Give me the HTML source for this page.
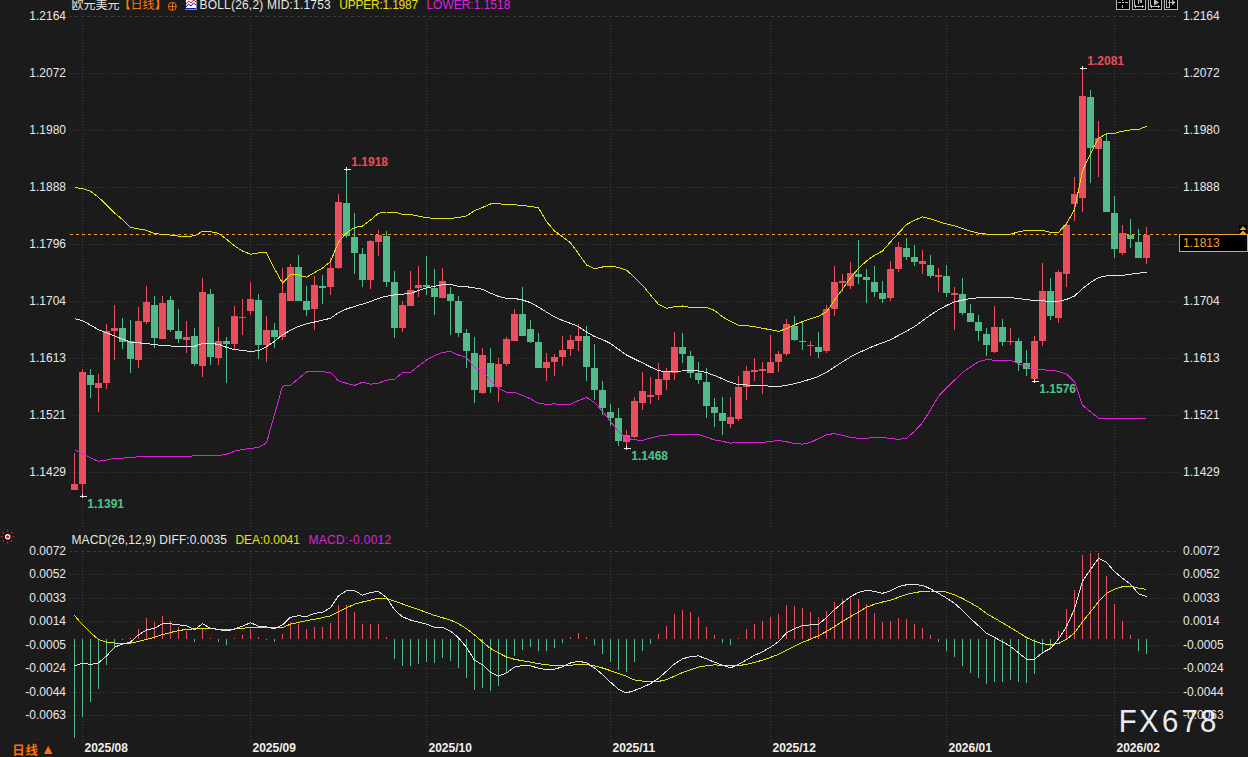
<!DOCTYPE html>
<html><head><meta charset="utf-8"><title>EURUSD</title>
<style>
html,body{margin:0;padding:0;background:#1b1b1b;}
body{width:1248px;height:757px;overflow:hidden;}
svg{display:block;font-family:"Liberation Sans", "Noto Sans CJK SC", sans-serif;}
</style></head>
<body>
<svg width="1248" height="757" viewBox="0 0 1248 757">
<rect width="1248" height="757" fill="#1b1b1b"/>
<g shape-rendering="crispEdges">
<line x1="69" y1="16.5" x2="1177" y2="16.5" stroke="#3c3c3c" stroke-width="1" stroke-dasharray="3 3"/>
<line x1="70" y1="73.5" x2="1178" y2="73.5" stroke="#3c3c3c" stroke-width="1" stroke-dasharray="1 2"/>
<line x1="70" y1="130.5" x2="1178" y2="130.5" stroke="#3c3c3c" stroke-width="1" stroke-dasharray="1 2"/>
<line x1="70" y1="187.5" x2="1178" y2="187.5" stroke="#3c3c3c" stroke-width="1" stroke-dasharray="1 2"/>
<line x1="70" y1="244.5" x2="1178" y2="244.5" stroke="#3c3c3c" stroke-width="1" stroke-dasharray="1 2"/>
<line x1="70" y1="301.5" x2="1178" y2="301.5" stroke="#3c3c3c" stroke-width="1" stroke-dasharray="1 2"/>
<line x1="70" y1="358.5" x2="1178" y2="358.5" stroke="#3c3c3c" stroke-width="1" stroke-dasharray="1 2"/>
<line x1="70" y1="415.5" x2="1178" y2="415.5" stroke="#3c3c3c" stroke-width="1" stroke-dasharray="1 2"/>
<line x1="70" y1="472.5" x2="1178" y2="472.5" stroke="#3c3c3c" stroke-width="1" stroke-dasharray="1 2"/>
<line x1="69" y1="551.5" x2="1177" y2="551.5" stroke="#3c3c3c" stroke-width="1" stroke-dasharray="3 3"/>
<line x1="70" y1="574.5" x2="1178" y2="574.5" stroke="#3c3c3c" stroke-width="1" stroke-dasharray="1 2"/>
<line x1="70" y1="598.5" x2="1178" y2="598.5" stroke="#3c3c3c" stroke-width="1" stroke-dasharray="1 2"/>
<line x1="70" y1="621.5" x2="1178" y2="621.5" stroke="#3c3c3c" stroke-width="1" stroke-dasharray="1 2"/>
<line x1="70" y1="645.5" x2="1178" y2="645.5" stroke="#3c3c3c" stroke-width="1" stroke-dasharray="1 2"/>
<line x1="70" y1="668.5" x2="1178" y2="668.5" stroke="#3c3c3c" stroke-width="1" stroke-dasharray="1 2"/>
<line x1="70" y1="692.5" x2="1178" y2="692.5" stroke="#3c3c3c" stroke-width="1" stroke-dasharray="1 2"/>
<line x1="70" y1="715.5" x2="1178" y2="715.5" stroke="#3c3c3c" stroke-width="1" stroke-dasharray="1 2"/>
<line x1="82.5" y1="19" x2="82.5" y2="527" stroke="#3c3c3c" stroke-width="1" stroke-dasharray="1 2"/>
<line x1="82.5" y1="553" x2="82.5" y2="738" stroke="#3c3c3c" stroke-width="1" stroke-dasharray="1 2"/>
<line x1="82.5" y1="740" x2="82.5" y2="744" stroke="#2a2a2a" stroke-width="1"/>
<line x1="250.5" y1="19" x2="250.5" y2="527" stroke="#3c3c3c" stroke-width="1" stroke-dasharray="1 2"/>
<line x1="250.5" y1="553" x2="250.5" y2="738" stroke="#3c3c3c" stroke-width="1" stroke-dasharray="1 2"/>
<line x1="250.5" y1="740" x2="250.5" y2="744" stroke="#2a2a2a" stroke-width="1"/>
<line x1="426.5" y1="19" x2="426.5" y2="527" stroke="#3c3c3c" stroke-width="1" stroke-dasharray="1 2"/>
<line x1="426.5" y1="553" x2="426.5" y2="738" stroke="#3c3c3c" stroke-width="1" stroke-dasharray="1 2"/>
<line x1="426.5" y1="740" x2="426.5" y2="744" stroke="#2a2a2a" stroke-width="1"/>
<line x1="610.5" y1="19" x2="610.5" y2="527" stroke="#3c3c3c" stroke-width="1" stroke-dasharray="1 2"/>
<line x1="610.5" y1="553" x2="610.5" y2="738" stroke="#3c3c3c" stroke-width="1" stroke-dasharray="1 2"/>
<line x1="610.5" y1="740" x2="610.5" y2="744" stroke="#2a2a2a" stroke-width="1"/>
<line x1="770.5" y1="19" x2="770.5" y2="527" stroke="#3c3c3c" stroke-width="1" stroke-dasharray="1 2"/>
<line x1="770.5" y1="553" x2="770.5" y2="738" stroke="#3c3c3c" stroke-width="1" stroke-dasharray="1 2"/>
<line x1="770.5" y1="740" x2="770.5" y2="744" stroke="#2a2a2a" stroke-width="1"/>
<line x1="946.5" y1="19" x2="946.5" y2="527" stroke="#3c3c3c" stroke-width="1" stroke-dasharray="1 2"/>
<line x1="946.5" y1="553" x2="946.5" y2="738" stroke="#3c3c3c" stroke-width="1" stroke-dasharray="1 2"/>
<line x1="946.5" y1="740" x2="946.5" y2="744" stroke="#2a2a2a" stroke-width="1"/>
<line x1="1114.5" y1="19" x2="1114.5" y2="527" stroke="#3c3c3c" stroke-width="1" stroke-dasharray="1 2"/>
<line x1="1114.5" y1="553" x2="1114.5" y2="738" stroke="#3c3c3c" stroke-width="1" stroke-dasharray="1 2"/>
<line x1="1114.5" y1="740" x2="1114.5" y2="744" stroke="#2a2a2a" stroke-width="1"/>
<line x1="0" y1="529.5" x2="1248" y2="529.5" stroke="#202020" stroke-width="1"/>
<line x1="0" y1="739.5" x2="1248" y2="739.5" stroke="#202020" stroke-width="1"/>
<line x1="69.5" y1="0" x2="69.5" y2="757" stroke="#1f1f1f" stroke-width="1"/>
<line x1="1180.5" y1="0" x2="1180.5" y2="757" stroke="#1e1e1e" stroke-width="1"/>
</g>
<line x1="70" y1="234.5" x2="1179" y2="234.5" stroke="#f0a030" stroke-width="1" stroke-dasharray="3 3" shape-rendering="crispEdges"/>
<g shape-rendering="crispEdges">
<rect x="74" y="453" width="1" height="37" fill="#eb4f5e"/>
<rect x="71" y="484" width="7" height="6" fill="#eb4f5e"/>
<rect x="82" y="369" width="1" height="127" fill="#eb4f5e"/>
<rect x="79" y="372" width="7" height="112" fill="#eb4f5e"/>
<rect x="90" y="369" width="1" height="29" fill="#52ba89"/>
<rect x="87" y="375" width="7" height="10" fill="#52ba89"/>
<rect x="98" y="374" width="1" height="38" fill="#eb4f5e"/>
<rect x="95" y="383" width="7" height="5" fill="#eb4f5e"/>
<rect x="106" y="324" width="1" height="65" fill="#eb4f5e"/>
<rect x="103" y="331" width="7" height="52" fill="#eb4f5e"/>
<rect x="114" y="305" width="1" height="55" fill="#eb4f5e"/>
<rect x="111" y="328" width="7" height="3" fill="#eb4f5e"/>
<rect x="122" y="318" width="1" height="31" fill="#52ba89"/>
<rect x="119" y="328" width="7" height="14" fill="#52ba89"/>
<rect x="130" y="320" width="1" height="53" fill="#52ba89"/>
<rect x="127" y="341" width="7" height="18" fill="#52ba89"/>
<rect x="138" y="307" width="1" height="61" fill="#eb4f5e"/>
<rect x="135" y="321" width="7" height="39" fill="#eb4f5e"/>
<rect x="146" y="286" width="1" height="38" fill="#eb4f5e"/>
<rect x="143" y="302" width="7" height="20" fill="#eb4f5e"/>
<rect x="154" y="296" width="1" height="52" fill="#52ba89"/>
<rect x="151" y="305" width="7" height="33" fill="#52ba89"/>
<rect x="162" y="296" width="1" height="43" fill="#eb4f5e"/>
<rect x="159" y="303" width="7" height="36" fill="#eb4f5e"/>
<rect x="170" y="296" width="1" height="36" fill="#52ba89"/>
<rect x="167" y="300" width="7" height="30" fill="#52ba89"/>
<rect x="178" y="309" width="1" height="34" fill="#52ba89"/>
<rect x="175" y="331" width="7" height="8" fill="#52ba89"/>
<rect x="186" y="321" width="1" height="32" fill="#eb4f5e"/>
<rect x="183" y="337" width="7" height="3" fill="#eb4f5e"/>
<rect x="194" y="328" width="1" height="38" fill="#52ba89"/>
<rect x="191" y="336" width="7" height="28" fill="#52ba89"/>
<rect x="202" y="278" width="1" height="99" fill="#eb4f5e"/>
<rect x="199" y="292" width="7" height="74" fill="#eb4f5e"/>
<rect x="210" y="289" width="1" height="76" fill="#52ba89"/>
<rect x="207" y="294" width="7" height="63" fill="#52ba89"/>
<rect x="218" y="327" width="1" height="38" fill="#eb4f5e"/>
<rect x="215" y="341" width="7" height="17" fill="#eb4f5e"/>
<rect x="226" y="337" width="1" height="46" fill="#52ba89"/>
<rect x="223" y="341" width="7" height="3" fill="#52ba89"/>
<rect x="234" y="306" width="1" height="43" fill="#eb4f5e"/>
<rect x="231" y="316" width="7" height="28" fill="#eb4f5e"/>
<rect x="242" y="299" width="1" height="36" fill="#eb4f5e"/>
<rect x="239" y="317" width="7" height="1" fill="#eb4f5e"/>
<rect x="250" y="282" width="1" height="33" fill="#eb4f5e"/>
<rect x="247" y="299" width="7" height="12" fill="#eb4f5e"/>
<rect x="258" y="294" width="1" height="65" fill="#52ba89"/>
<rect x="255" y="300" width="7" height="45" fill="#52ba89"/>
<rect x="266" y="316" width="1" height="46" fill="#eb4f5e"/>
<rect x="263" y="330" width="7" height="15" fill="#eb4f5e"/>
<rect x="274" y="323" width="1" height="25" fill="#52ba89"/>
<rect x="271" y="330" width="7" height="7" fill="#52ba89"/>
<rect x="282" y="268" width="1" height="72" fill="#eb4f5e"/>
<rect x="279" y="293" width="7" height="44" fill="#eb4f5e"/>
<rect x="290" y="264" width="1" height="37" fill="#eb4f5e"/>
<rect x="287" y="267" width="7" height="34" fill="#eb4f5e"/>
<rect x="298" y="255" width="1" height="46" fill="#52ba89"/>
<rect x="295" y="267" width="7" height="34" fill="#52ba89"/>
<rect x="306" y="286" width="1" height="30" fill="#52ba89"/>
<rect x="303" y="301" width="7" height="9" fill="#52ba89"/>
<rect x="314" y="276" width="1" height="54" fill="#eb4f5e"/>
<rect x="311" y="285" width="7" height="24" fill="#eb4f5e"/>
<rect x="322" y="275" width="1" height="29" fill="#52ba89"/>
<rect x="319" y="286" width="7" height="2" fill="#52ba89"/>
<rect x="330" y="258" width="1" height="37" fill="#eb4f5e"/>
<rect x="327" y="268" width="7" height="19" fill="#eb4f5e"/>
<rect x="338" y="194" width="1" height="75" fill="#eb4f5e"/>
<rect x="335" y="202" width="7" height="66" fill="#eb4f5e"/>
<rect x="346" y="169" width="1" height="69" fill="#52ba89"/>
<rect x="343" y="203" width="7" height="33" fill="#52ba89"/>
<rect x="354" y="213" width="1" height="61" fill="#52ba89"/>
<rect x="351" y="237" width="7" height="16" fill="#52ba89"/>
<rect x="362" y="248" width="1" height="39" fill="#52ba89"/>
<rect x="359" y="254" width="7" height="26" fill="#52ba89"/>
<rect x="370" y="240" width="1" height="49" fill="#eb4f5e"/>
<rect x="367" y="241" width="7" height="39" fill="#eb4f5e"/>
<rect x="378" y="230" width="1" height="26" fill="#eb4f5e"/>
<rect x="375" y="235" width="7" height="7" fill="#eb4f5e"/>
<rect x="386" y="231" width="1" height="56" fill="#52ba89"/>
<rect x="383" y="236" width="7" height="46" fill="#52ba89"/>
<rect x="394" y="271" width="1" height="67" fill="#52ba89"/>
<rect x="391" y="282" width="7" height="46" fill="#52ba89"/>
<rect x="402" y="301" width="1" height="31" fill="#eb4f5e"/>
<rect x="399" y="305" width="7" height="23" fill="#eb4f5e"/>
<rect x="410" y="271" width="1" height="35" fill="#eb4f5e"/>
<rect x="407" y="290" width="7" height="16" fill="#eb4f5e"/>
<rect x="418" y="266" width="1" height="31" fill="#eb4f5e"/>
<rect x="415" y="285" width="7" height="3" fill="#eb4f5e"/>
<rect x="426" y="256" width="1" height="39" fill="#52ba89"/>
<rect x="423" y="285" width="7" height="2" fill="#52ba89"/>
<rect x="434" y="269" width="1" height="46" fill="#52ba89"/>
<rect x="431" y="288" width="7" height="9" fill="#52ba89"/>
<rect x="442" y="268" width="1" height="30" fill="#eb4f5e"/>
<rect x="439" y="281" width="7" height="17" fill="#eb4f5e"/>
<rect x="450" y="287" width="1" height="48" fill="#52ba89"/>
<rect x="447" y="294" width="7" height="7" fill="#52ba89"/>
<rect x="458" y="296" width="1" height="41" fill="#52ba89"/>
<rect x="455" y="301" width="7" height="32" fill="#52ba89"/>
<rect x="466" y="329" width="1" height="39" fill="#52ba89"/>
<rect x="463" y="333" width="7" height="18" fill="#52ba89"/>
<rect x="474" y="337" width="1" height="66" fill="#52ba89"/>
<rect x="471" y="353" width="7" height="37" fill="#52ba89"/>
<rect x="482" y="348" width="1" height="46" fill="#eb4f5e"/>
<rect x="479" y="355" width="7" height="38" fill="#eb4f5e"/>
<rect x="490" y="348" width="1" height="45" fill="#52ba89"/>
<rect x="487" y="363" width="7" height="24" fill="#52ba89"/>
<rect x="498" y="358" width="1" height="44" fill="#eb4f5e"/>
<rect x="495" y="364" width="7" height="23" fill="#eb4f5e"/>
<rect x="506" y="337" width="1" height="29" fill="#eb4f5e"/>
<rect x="503" y="339" width="7" height="25" fill="#eb4f5e"/>
<rect x="514" y="309" width="1" height="32" fill="#eb4f5e"/>
<rect x="511" y="314" width="7" height="27" fill="#eb4f5e"/>
<rect x="522" y="287" width="1" height="49" fill="#52ba89"/>
<rect x="519" y="314" width="7" height="22" fill="#52ba89"/>
<rect x="530" y="320" width="1" height="23" fill="#52ba89"/>
<rect x="527" y="329" width="7" height="13" fill="#52ba89"/>
<rect x="538" y="333" width="1" height="35" fill="#52ba89"/>
<rect x="535" y="342" width="7" height="26" fill="#52ba89"/>
<rect x="546" y="353" width="1" height="28" fill="#eb4f5e"/>
<rect x="543" y="362" width="7" height="6" fill="#eb4f5e"/>
<rect x="554" y="354" width="1" height="22" fill="#eb4f5e"/>
<rect x="551" y="357" width="7" height="5" fill="#eb4f5e"/>
<rect x="562" y="336" width="1" height="30" fill="#eb4f5e"/>
<rect x="559" y="350" width="7" height="7" fill="#eb4f5e"/>
<rect x="570" y="335" width="1" height="21" fill="#eb4f5e"/>
<rect x="567" y="340" width="7" height="9" fill="#eb4f5e"/>
<rect x="578" y="324" width="1" height="27" fill="#eb4f5e"/>
<rect x="575" y="336" width="7" height="5" fill="#eb4f5e"/>
<rect x="586" y="326" width="1" height="55" fill="#52ba89"/>
<rect x="583" y="336" width="7" height="31" fill="#52ba89"/>
<rect x="594" y="344" width="1" height="56" fill="#52ba89"/>
<rect x="591" y="368" width="7" height="22" fill="#52ba89"/>
<rect x="602" y="381" width="1" height="34" fill="#52ba89"/>
<rect x="599" y="390" width="7" height="18" fill="#52ba89"/>
<rect x="610" y="404" width="1" height="22" fill="#52ba89"/>
<rect x="607" y="412" width="7" height="6" fill="#52ba89"/>
<rect x="618" y="408" width="1" height="38" fill="#52ba89"/>
<rect x="615" y="418" width="7" height="23" fill="#52ba89"/>
<rect x="626" y="430" width="1" height="18" fill="#eb4f5e"/>
<rect x="623" y="435" width="7" height="7" fill="#eb4f5e"/>
<rect x="634" y="397" width="1" height="41" fill="#eb4f5e"/>
<rect x="631" y="401" width="7" height="36" fill="#eb4f5e"/>
<rect x="642" y="372" width="1" height="38" fill="#eb4f5e"/>
<rect x="639" y="391" width="7" height="12" fill="#eb4f5e"/>
<rect x="650" y="377" width="1" height="27" fill="#eb4f5e"/>
<rect x="647" y="395" width="7" height="2" fill="#eb4f5e"/>
<rect x="658" y="363" width="1" height="37" fill="#eb4f5e"/>
<rect x="655" y="379" width="7" height="16" fill="#eb4f5e"/>
<rect x="666" y="368" width="1" height="22" fill="#eb4f5e"/>
<rect x="663" y="372" width="7" height="8" fill="#eb4f5e"/>
<rect x="674" y="332" width="1" height="48" fill="#eb4f5e"/>
<rect x="671" y="347" width="7" height="26" fill="#eb4f5e"/>
<rect x="682" y="333" width="1" height="30" fill="#52ba89"/>
<rect x="679" y="347" width="7" height="7" fill="#52ba89"/>
<rect x="690" y="351" width="1" height="27" fill="#52ba89"/>
<rect x="687" y="356" width="7" height="17" fill="#52ba89"/>
<rect x="698" y="362" width="1" height="22" fill="#52ba89"/>
<rect x="695" y="373" width="7" height="7" fill="#52ba89"/>
<rect x="706" y="368" width="1" height="50" fill="#52ba89"/>
<rect x="703" y="382" width="7" height="24" fill="#52ba89"/>
<rect x="714" y="398" width="1" height="29" fill="#52ba89"/>
<rect x="711" y="407" width="7" height="6" fill="#52ba89"/>
<rect x="722" y="397" width="1" height="38" fill="#52ba89"/>
<rect x="719" y="413" width="7" height="8" fill="#52ba89"/>
<rect x="730" y="397" width="1" height="31" fill="#eb4f5e"/>
<rect x="727" y="417" width="7" height="7" fill="#eb4f5e"/>
<rect x="738" y="376" width="1" height="45" fill="#eb4f5e"/>
<rect x="735" y="387" width="7" height="32" fill="#eb4f5e"/>
<rect x="746" y="366" width="1" height="34" fill="#eb4f5e"/>
<rect x="743" y="371" width="7" height="16" fill="#eb4f5e"/>
<rect x="754" y="358" width="1" height="23" fill="#eb4f5e"/>
<rect x="751" y="370" width="7" height="2" fill="#eb4f5e"/>
<rect x="762" y="362" width="1" height="32" fill="#eb4f5e"/>
<rect x="759" y="369" width="7" height="2" fill="#eb4f5e"/>
<rect x="770" y="335" width="1" height="38" fill="#eb4f5e"/>
<rect x="767" y="362" width="7" height="11" fill="#eb4f5e"/>
<rect x="778" y="351" width="1" height="21" fill="#eb4f5e"/>
<rect x="775" y="354" width="7" height="8" fill="#eb4f5e"/>
<rect x="786" y="319" width="1" height="37" fill="#eb4f5e"/>
<rect x="783" y="324" width="7" height="30" fill="#eb4f5e"/>
<rect x="794" y="316" width="1" height="25" fill="#52ba89"/>
<rect x="791" y="326" width="7" height="14" fill="#52ba89"/>
<rect x="802" y="322" width="1" height="28" fill="#52ba89"/>
<rect x="799" y="341" width="7" height="1" fill="#52ba89"/>
<rect x="810" y="341" width="1" height="15" fill="#eb4f5e"/>
<rect x="807" y="345" width="7" height="1" fill="#eb4f5e"/>
<rect x="818" y="332" width="1" height="26" fill="#52ba89"/>
<rect x="815" y="347" width="7" height="5" fill="#52ba89"/>
<rect x="826" y="305" width="1" height="48" fill="#eb4f5e"/>
<rect x="823" y="309" width="7" height="42" fill="#eb4f5e"/>
<rect x="834" y="266" width="1" height="50" fill="#eb4f5e"/>
<rect x="831" y="282" width="7" height="27" fill="#eb4f5e"/>
<rect x="842" y="274" width="1" height="18" fill="#eb4f5e"/>
<rect x="839" y="281" width="7" height="2" fill="#eb4f5e"/>
<rect x="850" y="262" width="1" height="27" fill="#eb4f5e"/>
<rect x="847" y="273" width="7" height="13" fill="#eb4f5e"/>
<rect x="858" y="240" width="1" height="44" fill="#52ba89"/>
<rect x="855" y="274" width="7" height="3" fill="#52ba89"/>
<rect x="866" y="269" width="1" height="34" fill="#52ba89"/>
<rect x="863" y="277" width="7" height="3" fill="#52ba89"/>
<rect x="874" y="266" width="1" height="31" fill="#52ba89"/>
<rect x="871" y="282" width="7" height="10" fill="#52ba89"/>
<rect x="882" y="281" width="1" height="22" fill="#52ba89"/>
<rect x="879" y="293" width="7" height="6" fill="#52ba89"/>
<rect x="890" y="261" width="1" height="40" fill="#eb4f5e"/>
<rect x="887" y="269" width="7" height="29" fill="#eb4f5e"/>
<rect x="898" y="242" width="1" height="30" fill="#eb4f5e"/>
<rect x="895" y="247" width="7" height="22" fill="#eb4f5e"/>
<rect x="906" y="238" width="1" height="22" fill="#52ba89"/>
<rect x="903" y="248" width="7" height="9" fill="#52ba89"/>
<rect x="914" y="245" width="1" height="21" fill="#52ba89"/>
<rect x="911" y="257" width="7" height="5" fill="#52ba89"/>
<rect x="922" y="250" width="1" height="24" fill="#eb4f5e"/>
<rect x="919" y="261" width="7" height="3" fill="#eb4f5e"/>
<rect x="930" y="255" width="1" height="23" fill="#52ba89"/>
<rect x="927" y="265" width="7" height="11" fill="#52ba89"/>
<rect x="938" y="268" width="1" height="24" fill="#eb4f5e"/>
<rect x="935" y="275" width="7" height="2" fill="#eb4f5e"/>
<rect x="946" y="265" width="1" height="32" fill="#52ba89"/>
<rect x="943" y="276" width="7" height="17" fill="#52ba89"/>
<rect x="954" y="287" width="1" height="43" fill="#eb4f5e"/>
<rect x="951" y="293" width="7" height="2" fill="#eb4f5e"/>
<rect x="962" y="278" width="1" height="37" fill="#52ba89"/>
<rect x="959" y="294" width="7" height="19" fill="#52ba89"/>
<rect x="970" y="304" width="1" height="18" fill="#52ba89"/>
<rect x="967" y="313" width="7" height="9" fill="#52ba89"/>
<rect x="978" y="315" width="1" height="26" fill="#52ba89"/>
<rect x="975" y="322" width="7" height="9" fill="#52ba89"/>
<rect x="986" y="328" width="1" height="28" fill="#52ba89"/>
<rect x="983" y="334" width="7" height="11" fill="#52ba89"/>
<rect x="994" y="306" width="1" height="47" fill="#eb4f5e"/>
<rect x="991" y="327" width="7" height="25" fill="#eb4f5e"/>
<rect x="1002" y="319" width="1" height="27" fill="#52ba89"/>
<rect x="999" y="327" width="7" height="15" fill="#52ba89"/>
<rect x="1010" y="328" width="1" height="17" fill="#eb4f5e"/>
<rect x="1007" y="341" width="7" height="1" fill="#eb4f5e"/>
<rect x="1018" y="338" width="1" height="33" fill="#52ba89"/>
<rect x="1015" y="341" width="7" height="22" fill="#52ba89"/>
<rect x="1026" y="350" width="1" height="26" fill="#52ba89"/>
<rect x="1023" y="363" width="7" height="6" fill="#52ba89"/>
<rect x="1034" y="336" width="1" height="45" fill="#eb4f5e"/>
<rect x="1031" y="341" width="7" height="38" fill="#eb4f5e"/>
<rect x="1042" y="263" width="1" height="83" fill="#eb4f5e"/>
<rect x="1039" y="291" width="7" height="50" fill="#eb4f5e"/>
<rect x="1050" y="278" width="1" height="42" fill="#52ba89"/>
<rect x="1047" y="291" width="7" height="25" fill="#52ba89"/>
<rect x="1058" y="270" width="1" height="53" fill="#eb4f5e"/>
<rect x="1055" y="272" width="7" height="46" fill="#eb4f5e"/>
<rect x="1066" y="222" width="1" height="65" fill="#eb4f5e"/>
<rect x="1063" y="225" width="7" height="49" fill="#eb4f5e"/>
<rect x="1074" y="177" width="1" height="44" fill="#eb4f5e"/>
<rect x="1071" y="194" width="7" height="10" fill="#eb4f5e"/>
<rect x="1082" y="68" width="1" height="144" fill="#eb4f5e"/>
<rect x="1079" y="96" width="7" height="102" fill="#eb4f5e"/>
<rect x="1090" y="90" width="1" height="93" fill="#52ba89"/>
<rect x="1087" y="97" width="7" height="51" fill="#52ba89"/>
<rect x="1098" y="121" width="1" height="56" fill="#eb4f5e"/>
<rect x="1095" y="138" width="7" height="11" fill="#eb4f5e"/>
<rect x="1106" y="134" width="1" height="78" fill="#52ba89"/>
<rect x="1103" y="141" width="7" height="71" fill="#52ba89"/>
<rect x="1114" y="196" width="1" height="62" fill="#52ba89"/>
<rect x="1111" y="213" width="7" height="36" fill="#52ba89"/>
<rect x="1122" y="225" width="1" height="30" fill="#eb4f5e"/>
<rect x="1119" y="233" width="7" height="20" fill="#eb4f5e"/>
<rect x="1130" y="219" width="1" height="29" fill="#52ba89"/>
<rect x="1127" y="235" width="7" height="4" fill="#52ba89"/>
<rect x="1138" y="229" width="1" height="29" fill="#52ba89"/>
<rect x="1135" y="242" width="7" height="16" fill="#52ba89"/>
<rect x="1146" y="227" width="1" height="37" fill="#eb4f5e"/>
<rect x="1143" y="235" width="7" height="23" fill="#eb4f5e"/>
</g>
<polyline points="74.5,187.6 82.5,188.5 90.5,191.1 98.5,197.3 106.5,205.0 114.5,213.0 122.5,219.5 130.5,227.2 138.5,229.0 146.5,230.2 154.5,233.8 162.5,234.2 170.5,235.1 178.5,236.1 186.5,236.4 194.5,235.8 202.5,231.3 210.5,231.6 218.5,233.4 226.5,239.2 234.5,245.8 242.5,251.1 250.5,254.2 258.5,253.0 266.5,252.8 274.5,268.8 282.5,283.2 290.5,274.5 298.5,274.9 306.5,277.2 314.5,272.6 322.5,268.0 330.5,261.7 338.5,242.0 346.5,232.8 354.5,227.6 362.5,226.0 370.5,220.1 378.5,213.2 386.5,212.0 394.5,212.0 402.5,214.4 410.5,214.6 418.5,216.1 426.5,217.7 434.5,218.4 442.5,218.4 450.5,218.4 458.5,217.5 466.5,215.9 474.5,210.8 482.5,207.4 490.5,204.0 498.5,203.9 506.5,204.3 514.5,204.8 522.5,205.5 530.5,206.5 538.5,207.8 546.5,221.6 554.5,230.9 562.5,236.7 570.5,242.7 578.5,253.7 586.5,265.0 594.5,268.7 602.5,267.0 610.5,266.2 618.5,267.4 626.5,270.1 634.5,277.4 642.5,285.3 650.5,294.9 658.5,304.4 666.5,308.4 674.5,306.8 682.5,306.0 690.5,307.4 698.5,307.4 706.5,307.4 714.5,310.4 722.5,316.9 730.5,321.3 738.5,325.2 746.5,325.7 754.5,326.7 762.5,328.4 770.5,329.6 778.5,331.4 786.5,328.6 794.5,324.8 802.5,321.6 810.5,318.9 818.5,316.3 826.5,311.8 834.5,300.2 842.5,289.0 850.5,277.8 858.5,268.6 866.5,260.9 874.5,255.2 882.5,251.0 890.5,241.9 898.5,233.1 906.5,224.6 914.5,220.3 922.5,216.9 930.5,218.7 938.5,221.6 946.5,223.9 954.5,225.9 962.5,228.4 970.5,231.1 978.5,233.2 986.5,234.1 994.5,234.1 1002.5,234.1 1010.5,234.1 1018.5,231.9 1026.5,230.3 1034.5,230.3 1042.5,230.4 1050.5,232.4 1058.5,232.4 1066.5,223.8 1074.5,209.6 1082.5,170.8 1090.5,153.7 1098.5,138.3 1106.5,133.7 1114.5,133.3 1122.5,131.2 1130.5,130.0 1138.5,129.5 1146.5,126.4" fill="none" stroke="#e6e218" stroke-width="1" stroke-linejoin="round" shape-rendering="crispEdges"/>
<polyline points="74.5,318.7 82.5,320.7 90.5,325.1 98.5,329.8 106.5,332.8 114.5,335.9 122.5,339.2 130.5,342.1 138.5,342.8 146.5,343.6 154.5,344.6 162.5,345.5 170.5,346.0 178.5,346.0 186.5,346.1 194.5,346.4 202.5,343.3 210.5,343.7 218.5,344.2 226.5,347.4 234.5,349.6 242.5,350.3 250.5,351.5 258.5,350.6 266.5,346.8 274.5,341.3 282.5,334.6 290.5,330.4 298.5,326.4 306.5,323.8 314.5,322.0 322.5,320.2 330.5,318.3 338.5,312.5 346.5,309.0 354.5,306.4 362.5,304.1 370.5,301.5 378.5,298.3 386.5,296.2 394.5,295.0 402.5,294.2 410.5,293.4 418.5,290.6 426.5,287.9 434.5,286.3 442.5,284.8 450.5,284.2 458.5,286.5 466.5,286.7 474.5,287.9 482.5,289.3 490.5,293.1 498.5,296.4 506.5,298.4 514.5,298.4 522.5,300.0 530.5,302.7 538.5,307.1 546.5,312.1 554.5,316.9 562.5,320.4 570.5,323.4 578.5,326.5 586.5,332.1 594.5,336.5 602.5,339.6 610.5,343.5 618.5,349.4 626.5,355.0 634.5,359.0 642.5,362.9 650.5,367.0 658.5,370.5 666.5,372.0 674.5,371.1 682.5,371.0 690.5,370.9 698.5,370.9 706.5,372.6 714.5,375.5 722.5,378.8 730.5,382.4 738.5,384.6 746.5,385.0 754.5,385.2 762.5,385.6 770.5,386.2 778.5,386.5 786.5,385.4 794.5,383.7 802.5,381.6 810.5,379.1 818.5,376.4 826.5,372.2 834.5,367.1 842.5,361.9 850.5,356.9 858.5,352.8 866.5,349.2 874.5,345.7 882.5,342.9 890.5,339.8 898.5,335.4 906.5,331.1 914.5,326.6 922.5,320.8 930.5,315.0 938.5,309.9 946.5,305.5 954.5,301.8 962.5,300.2 970.5,298.6 978.5,297.7 986.5,297.7 994.5,297.7 1002.5,297.7 1010.5,297.7 1018.5,298.5 1026.5,299.6 1034.5,300.6 1042.5,300.9 1050.5,301.2 1058.5,301.4 1066.5,299.4 1074.5,296.1 1082.5,288.5 1090.5,282.5 1098.5,277.5 1106.5,276.0 1114.5,275.9 1122.5,275.3 1130.5,274.2 1138.5,273.1 1146.5,272.4" fill="none" stroke="#e4e4e4" stroke-width="1" stroke-linejoin="round" shape-rendering="crispEdges"/>
<polyline points="74.5,449.6 82.5,453.8 90.5,457.9 98.5,461.2 106.5,460.1 114.5,458.3 122.5,458.1 130.5,457.5 138.5,456.8 146.5,456.4 154.5,456.3 162.5,456.2 170.5,456.2 178.5,456.2 186.5,456.2 194.5,455.9 202.5,455.5 210.5,455.5 218.5,455.5 226.5,454.4 234.5,451.2 242.5,449.4 250.5,448.4 258.5,447.5 266.5,442.8 274.5,414.6 282.5,386.2 290.5,385.4 298.5,378.5 306.5,372.0 314.5,371.6 322.5,371.8 330.5,372.5 338.5,380.9 346.5,383.3 354.5,385.4 362.5,382.2 370.5,384.2 378.5,383.1 386.5,380.1 394.5,379.4 402.5,372.6 410.5,372.5 418.5,365.9 426.5,360.0 434.5,355.6 442.5,352.5 450.5,351.4 458.5,355.0 466.5,357.5 474.5,367.6 482.5,370.3 490.5,380.7 498.5,388.1 506.5,392.1 514.5,392.4 522.5,395.5 530.5,398.8 538.5,403.5 546.5,404.2 554.5,403.9 562.5,404.4 570.5,404.1 578.5,400.6 586.5,397.4 594.5,402.4 602.5,411.3 610.5,421.5 618.5,431.5 626.5,438.2 634.5,439.8 642.5,440.4 650.5,438.1 658.5,436.1 666.5,435.1 674.5,434.7 682.5,434.5 690.5,434.5 698.5,434.5 706.5,437.3 714.5,440.0 722.5,441.3 730.5,443.2 738.5,442.4 746.5,442.4 754.5,442.4 762.5,442.4 770.5,441.5 778.5,440.4 786.5,441.8 794.5,443.6 802.5,444.1 810.5,442.4 818.5,438.6 826.5,434.7 834.5,433.6 842.5,435.4 850.5,437.4 858.5,438.3 866.5,438.3 874.5,437.4 882.5,437.4 890.5,438.5 898.5,439.4 906.5,438.2 914.5,431.4 922.5,422.7 930.5,409.7 938.5,396.3 946.5,387.8 954.5,380.2 962.5,372.6 970.5,367.0 978.5,361.8 986.5,359.5 994.5,360.3 1002.5,360.3 1010.5,360.3 1018.5,363.6 1026.5,366.6 1034.5,369.5 1042.5,369.8 1050.5,370.3 1058.5,371.4 1066.5,374.2 1074.5,381.7 1082.5,405.3 1090.5,411.8 1098.5,418.2 1106.5,418.7 1114.5,418.9 1122.5,419.0 1130.5,418.9 1138.5,418.7 1146.5,418.5" fill="none" stroke="#de22de" stroke-width="1" stroke-linejoin="round" shape-rendering="crispEdges"/>
<rect x="80" y="496" width="7" height="1" fill="#f0f0f0" shape-rendering="crispEdges"/><rect x="82" y="494" width="1" height="4" fill="#f0f0f0" shape-rendering="crispEdges"/><text x="87.3" y="508" fill="#4fc48c" font-size="12" font-weight="bold">1.1391</text>
<rect x="344" y="169" width="7" height="1" fill="#f0f0f0" shape-rendering="crispEdges"/><rect x="346" y="167" width="1" height="4" fill="#f0f0f0" shape-rendering="crispEdges"/><text x="351.3" y="166" fill="#ec4c58" font-size="12" font-weight="bold">1.1918</text>
<rect x="624" y="448" width="7" height="1" fill="#f0f0f0" shape-rendering="crispEdges"/><rect x="626" y="446" width="1" height="4" fill="#f0f0f0" shape-rendering="crispEdges"/><text x="631.3" y="460" fill="#4fc48c" font-size="12" font-weight="bold">1.1468</text>
<rect x="1080" y="68" width="7" height="1" fill="#f0f0f0" shape-rendering="crispEdges"/><rect x="1082" y="66" width="1" height="4" fill="#f0f0f0" shape-rendering="crispEdges"/><text x="1087.3" y="65" fill="#ec4c58" font-size="12" font-weight="bold">1.2081</text>
<rect x="1032" y="381" width="7" height="1" fill="#f0f0f0" shape-rendering="crispEdges"/><rect x="1034" y="379" width="1" height="4" fill="#f0f0f0" shape-rendering="crispEdges"/><text x="1039.3" y="393" fill="#4fc48c" font-size="12" font-weight="bold">1.1576</text>
<g shape-rendering="crispEdges">
<rect x="74" y="639" width="1" height="99" fill="#52ba89"/>
<rect x="82" y="639" width="1" height="78" fill="#52ba89"/>
<rect x="90" y="639" width="1" height="63" fill="#52ba89"/>
<rect x="98" y="639" width="1" height="50" fill="#52ba89"/>
<rect x="106" y="639" width="1" height="26" fill="#52ba89"/>
<rect x="114" y="639" width="1" height="8" fill="#52ba89"/>
<rect x="122" y="639" width="1" height="1" fill="#52ba89"/>
<rect x="130" y="638" width="1" height="1" fill="#eb4f5e"/>
<rect x="138" y="629" width="1" height="10" fill="#eb4f5e"/>
<rect x="146" y="618" width="1" height="21" fill="#eb4f5e"/>
<rect x="154" y="622" width="1" height="17" fill="#eb4f5e"/>
<rect x="162" y="616" width="1" height="23" fill="#eb4f5e"/>
<rect x="170" y="621" width="1" height="18" fill="#eb4f5e"/>
<rect x="178" y="627" width="1" height="12" fill="#eb4f5e"/>
<rect x="186" y="631" width="1" height="8" fill="#eb4f5e"/>
<rect x="194" y="639" width="1" height="3" fill="#52ba89"/>
<rect x="202" y="629" width="1" height="10" fill="#eb4f5e"/>
<rect x="210" y="638" width="1" height="1" fill="#eb4f5e"/>
<rect x="218" y="639" width="1" height="3" fill="#52ba89"/>
<rect x="226" y="639" width="1" height="6" fill="#52ba89"/>
<rect x="234" y="638" width="1" height="1" fill="#eb4f5e"/>
<rect x="242" y="635" width="1" height="4" fill="#eb4f5e"/>
<rect x="250" y="629" width="1" height="10" fill="#eb4f5e"/>
<rect x="258" y="637" width="1" height="2" fill="#eb4f5e"/>
<rect x="266" y="639" width="1" height="1" fill="#52ba89"/>
<rect x="274" y="639" width="1" height="3" fill="#52ba89"/>
<rect x="282" y="634" width="1" height="5" fill="#eb4f5e"/>
<rect x="290" y="622" width="1" height="17" fill="#eb4f5e"/>
<rect x="298" y="624" width="1" height="15" fill="#eb4f5e"/>
<rect x="306" y="629" width="1" height="10" fill="#eb4f5e"/>
<rect x="314" y="627" width="1" height="12" fill="#eb4f5e"/>
<rect x="322" y="627" width="1" height="12" fill="#eb4f5e"/>
<rect x="330" y="623" width="1" height="16" fill="#eb4f5e"/>
<rect x="338" y="605" width="1" height="34" fill="#eb4f5e"/>
<rect x="346" y="605" width="1" height="34" fill="#eb4f5e"/>
<rect x="354" y="612" width="1" height="27" fill="#eb4f5e"/>
<rect x="362" y="624" width="1" height="15" fill="#eb4f5e"/>
<rect x="370" y="624" width="1" height="15" fill="#eb4f5e"/>
<rect x="378" y="624" width="1" height="15" fill="#eb4f5e"/>
<rect x="386" y="637" width="1" height="2" fill="#eb4f5e"/>
<rect x="394" y="639" width="1" height="20" fill="#52ba89"/>
<rect x="402" y="639" width="1" height="27" fill="#52ba89"/>
<rect x="410" y="639" width="1" height="27" fill="#52ba89"/>
<rect x="418" y="639" width="1" height="25" fill="#52ba89"/>
<rect x="426" y="639" width="1" height="23" fill="#52ba89"/>
<rect x="434" y="639" width="1" height="24" fill="#52ba89"/>
<rect x="442" y="639" width="1" height="19" fill="#52ba89"/>
<rect x="450" y="639" width="1" height="22" fill="#52ba89"/>
<rect x="458" y="639" width="1" height="29" fill="#52ba89"/>
<rect x="466" y="639" width="1" height="39" fill="#52ba89"/>
<rect x="474" y="639" width="1" height="51" fill="#52ba89"/>
<rect x="482" y="639" width="1" height="49" fill="#52ba89"/>
<rect x="490" y="639" width="1" height="52" fill="#52ba89"/>
<rect x="498" y="639" width="1" height="47" fill="#52ba89"/>
<rect x="506" y="639" width="1" height="33" fill="#52ba89"/>
<rect x="514" y="639" width="1" height="17" fill="#52ba89"/>
<rect x="522" y="639" width="1" height="11" fill="#52ba89"/>
<rect x="530" y="639" width="1" height="8" fill="#52ba89"/>
<rect x="538" y="639" width="1" height="12" fill="#52ba89"/>
<rect x="546" y="639" width="1" height="12" fill="#52ba89"/>
<rect x="554" y="639" width="1" height="9" fill="#52ba89"/>
<rect x="562" y="639" width="1" height="4" fill="#52ba89"/>
<rect x="570" y="637" width="1" height="2" fill="#eb4f5e"/>
<rect x="578" y="633" width="1" height="6" fill="#eb4f5e"/>
<rect x="586" y="637" width="1" height="2" fill="#eb4f5e"/>
<rect x="594" y="639" width="1" height="6" fill="#52ba89"/>
<rect x="602" y="639" width="1" height="15" fill="#52ba89"/>
<rect x="610" y="639" width="1" height="23" fill="#52ba89"/>
<rect x="618" y="639" width="1" height="31" fill="#52ba89"/>
<rect x="626" y="639" width="1" height="33" fill="#52ba89"/>
<rect x="634" y="639" width="1" height="23" fill="#52ba89"/>
<rect x="642" y="639" width="1" height="12" fill="#52ba89"/>
<rect x="650" y="639" width="1" height="5" fill="#52ba89"/>
<rect x="658" y="634" width="1" height="5" fill="#eb4f5e"/>
<rect x="666" y="626" width="1" height="13" fill="#eb4f5e"/>
<rect x="674" y="614" width="1" height="25" fill="#eb4f5e"/>
<rect x="682" y="610" width="1" height="29" fill="#eb4f5e"/>
<rect x="690" y="612" width="1" height="27" fill="#eb4f5e"/>
<rect x="698" y="617" width="1" height="22" fill="#eb4f5e"/>
<rect x="706" y="627" width="1" height="12" fill="#eb4f5e"/>
<rect x="714" y="635" width="1" height="4" fill="#eb4f5e"/>
<rect x="722" y="639" width="1" height="4" fill="#52ba89"/>
<rect x="730" y="639" width="1" height="6" fill="#52ba89"/>
<rect x="738" y="638" width="1" height="1" fill="#eb4f5e"/>
<rect x="746" y="629" width="1" height="10" fill="#eb4f5e"/>
<rect x="754" y="624" width="1" height="15" fill="#eb4f5e"/>
<rect x="762" y="621" width="1" height="18" fill="#eb4f5e"/>
<rect x="770" y="617" width="1" height="22" fill="#eb4f5e"/>
<rect x="778" y="614" width="1" height="25" fill="#eb4f5e"/>
<rect x="786" y="605" width="1" height="34" fill="#eb4f5e"/>
<rect x="794" y="606" width="1" height="33" fill="#eb4f5e"/>
<rect x="802" y="608" width="1" height="31" fill="#eb4f5e"/>
<rect x="810" y="612" width="1" height="27" fill="#eb4f5e"/>
<rect x="818" y="617" width="1" height="22" fill="#eb4f5e"/>
<rect x="826" y="611" width="1" height="28" fill="#eb4f5e"/>
<rect x="834" y="602" width="1" height="37" fill="#eb4f5e"/>
<rect x="842" y="599" width="1" height="40" fill="#eb4f5e"/>
<rect x="850" y="597" width="1" height="42" fill="#eb4f5e"/>
<rect x="858" y="599" width="1" height="40" fill="#eb4f5e"/>
<rect x="866" y="604" width="1" height="35" fill="#eb4f5e"/>
<rect x="874" y="613" width="1" height="26" fill="#eb4f5e"/>
<rect x="882" y="622" width="1" height="17" fill="#eb4f5e"/>
<rect x="890" y="621" width="1" height="18" fill="#eb4f5e"/>
<rect x="898" y="618" width="1" height="21" fill="#eb4f5e"/>
<rect x="906" y="619" width="1" height="20" fill="#eb4f5e"/>
<rect x="914" y="624" width="1" height="15" fill="#eb4f5e"/>
<rect x="922" y="628" width="1" height="11" fill="#eb4f5e"/>
<rect x="930" y="635" width="1" height="4" fill="#eb4f5e"/>
<rect x="938" y="639" width="1" height="3" fill="#52ba89"/>
<rect x="946" y="639" width="1" height="12" fill="#52ba89"/>
<rect x="954" y="639" width="1" height="18" fill="#52ba89"/>
<rect x="962" y="639" width="1" height="27" fill="#52ba89"/>
<rect x="970" y="639" width="1" height="34" fill="#52ba89"/>
<rect x="978" y="639" width="1" height="39" fill="#52ba89"/>
<rect x="986" y="639" width="1" height="45" fill="#52ba89"/>
<rect x="994" y="639" width="1" height="43" fill="#52ba89"/>
<rect x="1002" y="639" width="1" height="43" fill="#52ba89"/>
<rect x="1010" y="639" width="1" height="41" fill="#52ba89"/>
<rect x="1018" y="639" width="1" height="43" fill="#52ba89"/>
<rect x="1026" y="639" width="1" height="44" fill="#52ba89"/>
<rect x="1034" y="639" width="1" height="35" fill="#52ba89"/>
<rect x="1042" y="639" width="1" height="15" fill="#52ba89"/>
<rect x="1050" y="639" width="1" height="9" fill="#52ba89"/>
<rect x="1058" y="631" width="1" height="8" fill="#eb4f5e"/>
<rect x="1066" y="609" width="1" height="30" fill="#eb4f5e"/>
<rect x="1074" y="590" width="1" height="49" fill="#eb4f5e"/>
<rect x="1082" y="555" width="1" height="84" fill="#eb4f5e"/>
<rect x="1090" y="553" width="1" height="86" fill="#eb4f5e"/>
<rect x="1098" y="553" width="1" height="86" fill="#eb4f5e"/>
<rect x="1106" y="576" width="1" height="63" fill="#eb4f5e"/>
<rect x="1114" y="604" width="1" height="35" fill="#eb4f5e"/>
<rect x="1122" y="621" width="1" height="18" fill="#eb4f5e"/>
<rect x="1130" y="635" width="1" height="4" fill="#eb4f5e"/>
<rect x="1138" y="639" width="1" height="12" fill="#52ba89"/>
<rect x="1146" y="639" width="1" height="15" fill="#52ba89"/>
</g>
<polyline points="74.5,615.4 82.5,624.8 90.5,632.8 98.5,639.4 106.5,642.1 114.5,643.1 122.5,643.1 130.5,643.1 138.5,641.5 146.5,639.4 154.5,637.3 162.5,634.6 170.5,632.5 178.5,630.6 186.5,629.4 194.5,628.8 202.5,628.3 210.5,628.7 218.5,629.2 226.5,629.6 234.5,629.0 242.5,628.3 250.5,627.5 258.5,627.5 266.5,627.5 274.5,627.5 282.5,627.5 290.5,624.2 298.5,622.4 306.5,620.6 314.5,619.3 322.5,617.7 330.5,615.8 338.5,611.8 346.5,607.8 354.5,604.2 362.5,602.0 370.5,600.1 378.5,598.1 386.5,598.5 394.5,601.1 402.5,604.0 410.5,606.8 418.5,609.5 426.5,612.5 434.5,615.4 442.5,617.7 450.5,620.1 458.5,623.7 466.5,628.8 474.5,634.9 482.5,641.9 490.5,648.5 498.5,652.9 506.5,657.0 514.5,659.3 522.5,660.7 530.5,662.1 538.5,663.6 546.5,664.9 554.5,665.2 562.5,665.4 570.5,665.3 578.5,664.2 586.5,664.7 594.5,665.8 602.5,668.0 610.5,670.7 618.5,673.4 626.5,676.3 634.5,680.0 642.5,681.1 650.5,681.9 658.5,681.5 666.5,679.6 674.5,676.2 682.5,672.5 690.5,669.7 698.5,667.1 706.5,665.7 714.5,664.9 722.5,665.3 730.5,665.6 738.5,665.6 746.5,664.4 754.5,662.4 762.5,660.2 770.5,657.4 778.5,654.3 786.5,650.3 794.5,646.3 802.5,642.3 810.5,639.2 818.5,635.7 826.5,631.5 834.5,626.6 842.5,621.3 850.5,616.6 858.5,612.0 866.5,607.3 874.5,604.2 882.5,602.0 890.5,600.3 898.5,597.2 906.5,594.4 914.5,592.8 922.5,591.2 930.5,591.0 938.5,591.0 946.5,592.1 954.5,594.9 962.5,598.5 970.5,602.8 978.5,607.5 986.5,613.6 994.5,618.2 1002.5,622.8 1010.5,627.6 1018.5,632.5 1026.5,637.6 1034.5,641.2 1042.5,643.7 1050.5,644.8 1058.5,643.5 1066.5,639.3 1074.5,633.0 1082.5,621.6 1090.5,611.9 1098.5,601.7 1106.5,593.2 1114.5,589.1 1122.5,586.7 1130.5,586.3 1138.5,588.2 1146.5,589.3" fill="none" stroke="#e6e218" stroke-width="1" stroke-linejoin="round" shape-rendering="crispEdges"/>
<polyline points="74.5,665.8 82.5,663.3 90.5,664.4 98.5,662.9 106.5,656.0 114.5,647.2 122.5,644.1 130.5,642.0 138.5,634.8 146.5,630.0 154.5,628.3 162.5,623.8 170.5,623.8 178.5,624.8 186.5,625.8 194.5,629.9 202.5,623.8 210.5,628.2 218.5,629.6 226.5,631.0 234.5,629.0 242.5,626.2 250.5,622.7 258.5,626.2 266.5,626.9 274.5,629.0 282.5,624.8 290.5,617.2 298.5,615.8 306.5,616.5 314.5,613.3 322.5,612.3 330.5,607.8 338.5,595.8 346.5,590.8 354.5,590.5 362.5,595.3 370.5,592.4 378.5,591.4 386.5,597.4 394.5,609.8 402.5,616.8 410.5,620.0 418.5,622.1 426.5,624.1 434.5,627.3 442.5,627.3 450.5,631.1 458.5,637.8 466.5,647.4 474.5,660.2 482.5,664.8 490.5,672.2 498.5,676.1 506.5,672.9 514.5,667.1 522.5,665.4 530.5,665.8 538.5,668.2 546.5,669.5 554.5,669.2 562.5,666.8 570.5,663.0 578.5,661.3 586.5,662.7 594.5,668.0 602.5,674.5 610.5,682.3 618.5,689.2 626.5,693.0 634.5,690.4 642.5,687.3 650.5,683.7 658.5,678.4 666.5,671.2 674.5,663.9 682.5,658.9 690.5,656.5 698.5,655.9 706.5,658.9 714.5,662.2 722.5,665.2 730.5,667.9 738.5,664.3 746.5,659.9 754.5,655.3 762.5,651.8 770.5,647.2 778.5,641.7 786.5,632.7 794.5,628.6 802.5,625.5 810.5,624.9 818.5,624.2 826.5,617.6 834.5,609.7 842.5,602.9 850.5,596.6 858.5,592.4 866.5,590.5 874.5,591.3 882.5,593.3 890.5,590.9 898.5,586.6 906.5,584.8 914.5,584.8 922.5,585.2 930.5,588.9 938.5,593.3 946.5,598.1 954.5,603.4 962.5,610.4 970.5,618.4 978.5,625.8 986.5,633.3 994.5,637.4 1002.5,641.7 1010.5,646.4 1018.5,652.8 1026.5,659.2 1034.5,659.2 1042.5,652.6 1050.5,648.5 1058.5,639.1 1066.5,626.5 1074.5,609.1 1082.5,581.2 1090.5,569.5 1098.5,558.3 1106.5,562.3 1114.5,571.7 1122.5,578.2 1130.5,584.2 1138.5,593.8 1146.5,596.6" fill="none" stroke="#e4e4e4" stroke-width="1" stroke-linejoin="round" shape-rendering="crispEdges"/>
<text transform="scale(0.95,1)" x="1177.58 1199.05 1223.16 1243.68 1263.05" y="731.7" font-size="31" fill="#e6ecf6" style="paint-order:stroke" stroke="#2a2418" stroke-width="0.6">FX678</text>
<g font-size="12" fill="#e8e8e8">
<text x="66" y="19.6" text-anchor="end">1.2164</text>
<text x="1183" y="19.6">1.2164</text>
<text x="66" y="76.6" text-anchor="end">1.2072</text>
<text x="1183" y="76.6">1.2072</text>
<text x="66" y="133.6" text-anchor="end">1.1980</text>
<text x="1183" y="133.6">1.1980</text>
<text x="66" y="190.6" text-anchor="end">1.1888</text>
<text x="1183" y="190.6">1.1888</text>
<text x="66" y="247.6" text-anchor="end">1.1796</text>
<text x="1183" y="247.6">1.1796</text>
<text x="66" y="304.6" text-anchor="end">1.1704</text>
<text x="1183" y="304.6">1.1704</text>
<text x="66" y="361.6" text-anchor="end">1.1613</text>
<text x="1183" y="361.6">1.1613</text>
<text x="66" y="418.6" text-anchor="end">1.1521</text>
<text x="1183" y="418.6">1.1521</text>
<text x="66" y="475.6" text-anchor="end">1.1429</text>
<text x="1183" y="475.6">1.1429</text>
<text x="66" y="554.6" text-anchor="end">0.0072</text>
<text x="1183" y="554.6">0.0072</text>
<text x="66" y="577.6" text-anchor="end">0.0052</text>
<text x="1183" y="577.6">0.0052</text>
<text x="66" y="601.6" text-anchor="end">0.0033</text>
<text x="1183" y="601.6">0.0033</text>
<text x="66" y="624.6" text-anchor="end">0.0014</text>
<text x="1183" y="624.6">0.0014</text>
<text x="66" y="648.6" text-anchor="end">-0.0005</text>
<text x="1183" y="648.6">-0.0005</text>
<text x="66" y="671.6" text-anchor="end">-0.0024</text>
<text x="1183" y="671.6">-0.0024</text>
<text x="66" y="695.6" text-anchor="end">-0.0044</text>
<text x="1183" y="695.6">-0.0044</text>
<text x="66" y="718.6" text-anchor="end">-0.0063</text>
<text x="1183" y="718.6">-0.0063</text>
</g>
<g font-size="12" font-weight="bold" fill="#f0f0f0">
<text x="84.5" y="752">2025/08</text>
<text x="252.5" y="752">2025/09</text>
<text x="428.5" y="752">2025/10</text>
<text x="612.5" y="752">2025/11</text>
<text x="772.5" y="752">2025/12</text>
<text x="948.5" y="752">2026/01</text>
<text x="1116.5" y="752">2026/02</text>
</g>
<text x="12.2" y="754.6" font-size="12.4" font-weight="bold" fill="#ff7000" textLength="25.6">日线</text>
<path d="M44 754 L48.2 745.8 L52.4 754 Z" fill="#ff7000"/>
<rect x="1179.5" y="234.5" width="68" height="17" fill="#000" stroke="#f0a030" stroke-width="1" shape-rendering="crispEdges"/>
<text x="1183" y="247" font-size="12" fill="#f0a030">1.1813</text>
<rect x="1239" y="225" width="8" height="9" fill="#000"/>
<path d="M1239.5 230 L1243 226 L1246.5 230 Z" fill="#f0a030"/>
<path d="M1239.5 234 L1243 230.5 L1246.5 234 Z" fill="#f0a030"/>
<text x="71.5" y="8.8" font-size="12" fill="#e8e8e8">欧元美元</text>
<text x="118.6" y="8.8" font-size="12" fill="#ff7808"><tspan font-weight="900">【</tspan>日线<tspan font-weight="900">】</tspan></text>
<circle cx="172.3" cy="6.4" r="4" fill="none" stroke="#ff7808" stroke-width="0.9"/>
<line x1="168.3" y1="6.5" x2="176.3" y2="6.5" stroke="#ff7808" stroke-width="0.9"/>
<line x1="172.5" y1="2.4" x2="172.5" y2="10.4" stroke="#ff7808" stroke-width="0.9"/>
<g shape-rendering="crispEdges"><rect x="185" y="-2" width="12" height="12" fill="#8a8a8a"/><rect x="185" y="-2" width="11" height="11" fill="#1010c0"/><rect x="186" y="-1" width="10" height="9" fill="#ffffff"/></g>
<polyline points="186,4 188.5,1 191,3 193.5,0 196,2" fill="none" stroke="#ff0000" stroke-width="1"/>
<polyline points="186,7 188.5,4 191,6 193.5,3 196,5" fill="none" stroke="#0000ff" stroke-width="1"/>
<text x="199.5" y="8.8" font-size="12" fill="#e8e8e8" textLength="131.2">BOLL(26,2) MID:1.1753</text>
<text x="339.2" y="8.8" font-size="12" fill="#e6e218" textLength="79">UPPER:1.1987</text>
<text x="426.4" y="8.8" font-size="12" fill="#de22de" textLength="84">LOWER:1.1518</text>
<rect x="1116.5" y="-3.5" width="13" height="13" fill="#000" stroke="#b4b4b4" stroke-width="1" shape-rendering="crispEdges"/>
<rect x="1132.5" y="-3.5" width="13" height="13" fill="#000" stroke="#b4b4b4" stroke-width="1" shape-rendering="crispEdges"/>
<rect x="1148.5" y="-3.5" width="13" height="13" fill="#000" stroke="#b4b4b4" stroke-width="1" shape-rendering="crispEdges"/>
<rect x="1164.5" y="-3.5" width="13" height="13" fill="#000" stroke="#b4b4b4" stroke-width="1" shape-rendering="crispEdges"/>
<g fill="#b8b8b8" shape-rendering="crispEdges"><rect x="1118" y="2" width="3" height="1"/><rect x="1122" y="2" width="2" height="1"/><rect x="1125" y="2" width="3" height="1"/><rect x="1122" y="-1" width="1" height="2"/><rect x="1122" y="5" width="1" height="3"/><rect x="1134" y="-1" width="1" height="8"/><rect x="1134" y="6" width="10" height="1"/><rect x="1135" y="5" width="1" height="3"/><rect x="1142" y="5" width="1" height="3"/><rect x="1138" y="-1" width="1" height="5"/><rect x="1141" y="-1" width="1" height="4"/><rect x="1150" y="-1" width="1" height="8"/><rect x="1150" y="6" width="10" height="1"/><rect x="1151" y="5" width="1" height="3"/><rect x="1158" y="5" width="1" height="3"/><rect x="1166" y="-1" width="1" height="9"/><rect x="1169" y="-1" width="1" height="9"/><rect x="1166" y="7" width="4" height="1"/><rect x="1168" y="2" width="5" height="1"/></g>
<path d="M1139 -1 L1141 3 L1141 -1" fill="none" stroke="#b8b8b8" stroke-width="1"/>
<path d="M1154 -1 L1159 2.5 L1154 5.5 Z" fill="#b8b8b8"/>
<path d="M1172 -0.5 L1175.5 2.5 L1172 5.5 Z" fill="#b8b8b8"/>
<text x="71.5" y="544" font-size="12" fill="#e8e8e8" textLength="155.4">MACD(26,12,9) DIFF:0.0035</text>
<text x="235.5" y="544" font-size="12" fill="#e6e218" textLength="64.4">DEA:0.0041</text>
<text x="308.5" y="544" font-size="12" fill="#de22de" textLength="82.8">MACD:-0.0012</text>
<g><line x1="12.5" y1="536.8" x2="14.3" y2="536.8" stroke="#ff1010" stroke-width="1.2"/><line x1="11.0" y1="540.3" x2="12.3" y2="541.6" stroke="#ff1010" stroke-width="1.2"/><line x1="7.5" y1="541.8" x2="7.5" y2="543.6" stroke="#ff1010" stroke-width="1.2"/><line x1="4.0" y1="540.3" x2="2.7" y2="541.6" stroke="#ff1010" stroke-width="1.2"/><line x1="2.5" y1="536.8" x2="0.7" y2="536.8" stroke="#ff1010" stroke-width="1.2"/><line x1="4.0" y1="533.3" x2="2.7" y2="532.0" stroke="#ff1010" stroke-width="1.2"/><line x1="7.5" y1="531.8" x2="7.5" y2="530.0" stroke="#ff1010" stroke-width="1.2"/><line x1="11.0" y1="533.3" x2="12.3" y2="532.0" stroke="#ff1010" stroke-width="1.2"/><circle cx="7.7" cy="536.8" r="3.6" fill="#000"/><circle cx="7.7" cy="536.8" r="2.8" fill="#fff"/><circle cx="7.7" cy="536.8" r="1.6" fill="#ff0000"/></g>
</svg>
</body></html>
